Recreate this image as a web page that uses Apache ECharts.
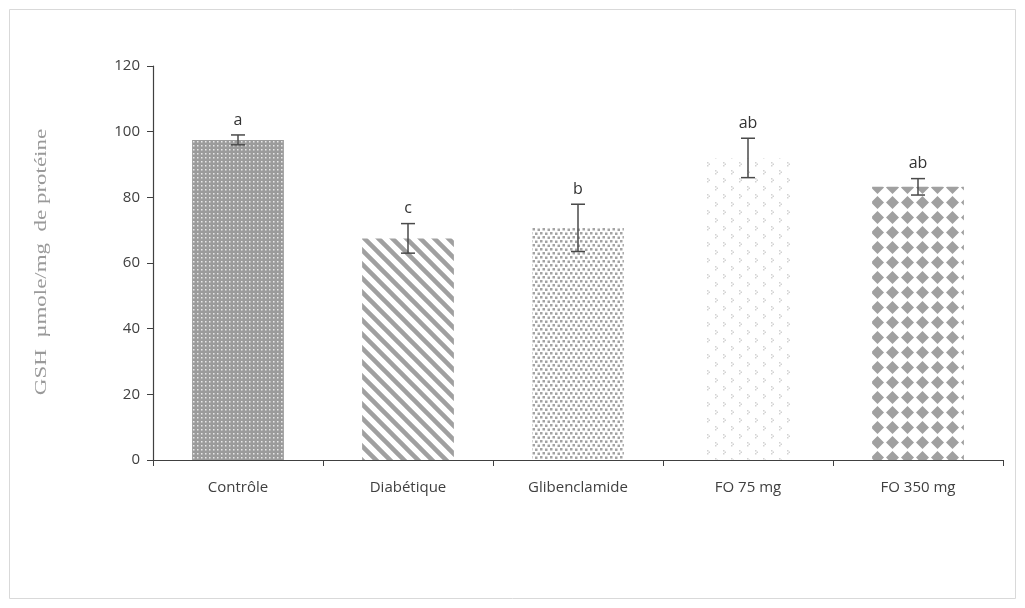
<!DOCTYPE html>
<html><head><meta charset="utf-8">
<script src="https://cdn.jsdelivr.net/npm/echarts@6/dist/echarts.min.js"></script>
<style>html,body{margin:0;padding:0;background:#fff}#c{width:1025px;height:608px}</style>
</head><body><div id="c"></div>
<script>
const categories = ['Contrôle', 'Diabétique', 'Glibenclamide', 'FO 75 mg', 'FO 350 mg'];
const values = [97.5, 67.5, 70.7, 92, 83.2];
const errors = [1.5, 4.5, 7.2, 6, 2.5];
const letters = ['a', 'c', 'b', 'ab', 'ab'];
const yTicks = [0, 20, 40, 60, 80, 100, 120];
const yTitle = 'GSH  µmole/mg  de protéine';

function tile(w, h, draw) {
  const c = document.createElement('canvas'); c.width = w; c.height = h;
  const g = c.getContext('2d'); draw(g, w, h); return c;
}
const patterns = [
  tile(4, 4, (g) => { g.fillStyle = '#9b9b9b'; g.fillRect(0,0,4,4); g.fillStyle = '#e8e8e8'; g.fillRect(1,1,1.5,1.5); }),
  tile(14, 14, (g) => { g.fillStyle = '#fff'; g.fillRect(0,0,14,14); g.strokeStyle = '#a0a0a0'; g.lineWidth = 4.5;
    g.beginPath(); g.moveTo(-2,-2); g.lineTo(16,16); g.moveTo(-9,5); g.lineTo(9,23); g.moveTo(5,-9); g.lineTo(23,9); g.stroke(); }),
  tile(10, 8, (g) => { g.fillStyle = '#fff'; g.fillRect(0,0,10,8); g.fillStyle = '#a3a3a3';
    g.fillRect(0,0,2.5,2.5); g.fillRect(5,0.5,2.5,2.5); g.fillRect(2.5,4,2.5,2.5); g.fillRect(7.5,4.5,2.5,2.5); }),
  tile(16, 16, (g) => { g.fillStyle = '#fff'; g.fillRect(0,0,16,16); g.fillStyle = '#d2d2d2';
    g.fillRect(3,2,1.5,1.5); g.fillRect(4.5,3.5,1.5,1.5); g.fillRect(3,5,1.5,1.5);
    g.fillRect(11,10,1.5,1.5); g.fillRect(12.5,11.5,1.5,1.5); g.fillRect(11,13,1.5,1.5); }),
  tile(15, 15, (g) => { g.fillStyle = '#fff'; g.fillRect(0,0,15,15); g.fillStyle = '#a0a0a0';
    g.beginPath(); g.moveTo(7.5,1); g.lineTo(14,7.5); g.lineTo(7.5,14); g.lineTo(1,7.5); g.closePath(); g.fill(); })
];

const chart = echarts.init(document.getElementById('c'));
const axisFont = { fontFamily: 'Open Sans', fontSize: 15, color: '#404040' };
chart.setOption({
  backgroundColor: '#fff',
  animation: false,
  graphic: [
    { type: 'rect', shape: { x: 9.5, y: 9.5, width: 1006, height: 589 }, style: { fill: 'none', stroke: '#d9d9d9', lineWidth: 1 } },
    { type: 'text', x: 42, y: 262, rotation: Math.PI / 2, scaleX: 1.35,
      style: { text: yTitle, fontFamily: 'Liberation Serif', fontSize: 17, fill: '#9a9a9a', align: 'center', verticalAlign: 'middle' } }
  ],
  grid: { left: 153, top: 66, right: 22, bottom: 148 },
  xAxis: {
    type: 'category', data: categories,
    axisLine: { lineStyle: { color: '#404040', width: 1.2 } },
    axisTick: { show: true, length: 6, lineStyle: { color: '#404040' } },
    axisLabel: Object.assign({ margin: 20 }, axisFont)
  },
  yAxis: {
    type: 'value', min: 0, max: 120, interval: 20,
    axisLine: { show: true, lineStyle: { color: '#404040', width: 1.2 } },
    axisTick: { show: true, length: 6, lineStyle: { color: '#404040' } },
    axisLabel: Object.assign({ margin: 13, formatter: (v) => yTicks.includes(v) ? String(v) : '' }, axisFont),
    splitLine: { show: false }
  },
  series: [
    {
      type: 'bar', barWidth: '54%', z: 2,
      data: values.map((v, i) => ({ value: v, itemStyle: { color: { image: patterns[i], repeat: 'repeat' } } }))
    },
    {
      type: 'custom', z: 10,
      data: values.map((v, i) => [i, v, errors[i]]),
      renderItem: (params, api) => {
        const x = api.value(0), v = api.value(1), e = api.value(2);
        const top = api.coord([x, v + e]), bot = api.coord([x, v - e]);
        const cap = 7;
        const st = { stroke: '#4a4a4a', lineWidth: 1.5 };
        return {
          type: 'group', children: [
            { type: 'line', z2: 10, shape: { x1: top[0], y1: top[1], x2: bot[0], y2: bot[1] }, style: st },
            { type: 'line', z2: 10, shape: { x1: top[0]-cap, y1: top[1], x2: top[0]+cap, y2: top[1] }, style: st },
            { type: 'line', z2: 10, shape: { x1: bot[0]-cap, y1: bot[1], x2: bot[0]+cap, y2: bot[1] }, style: st },
            { type: 'text', x: top[0], y: top[1] - 7, style: { text: letters[params.dataIndex], fontFamily: 'Open Sans', fontSize: 16, fill: '#333', align: 'center', verticalAlign: 'bottom' } }
          ]
        };
      }
    }
  ]
});
</script></body></html>
